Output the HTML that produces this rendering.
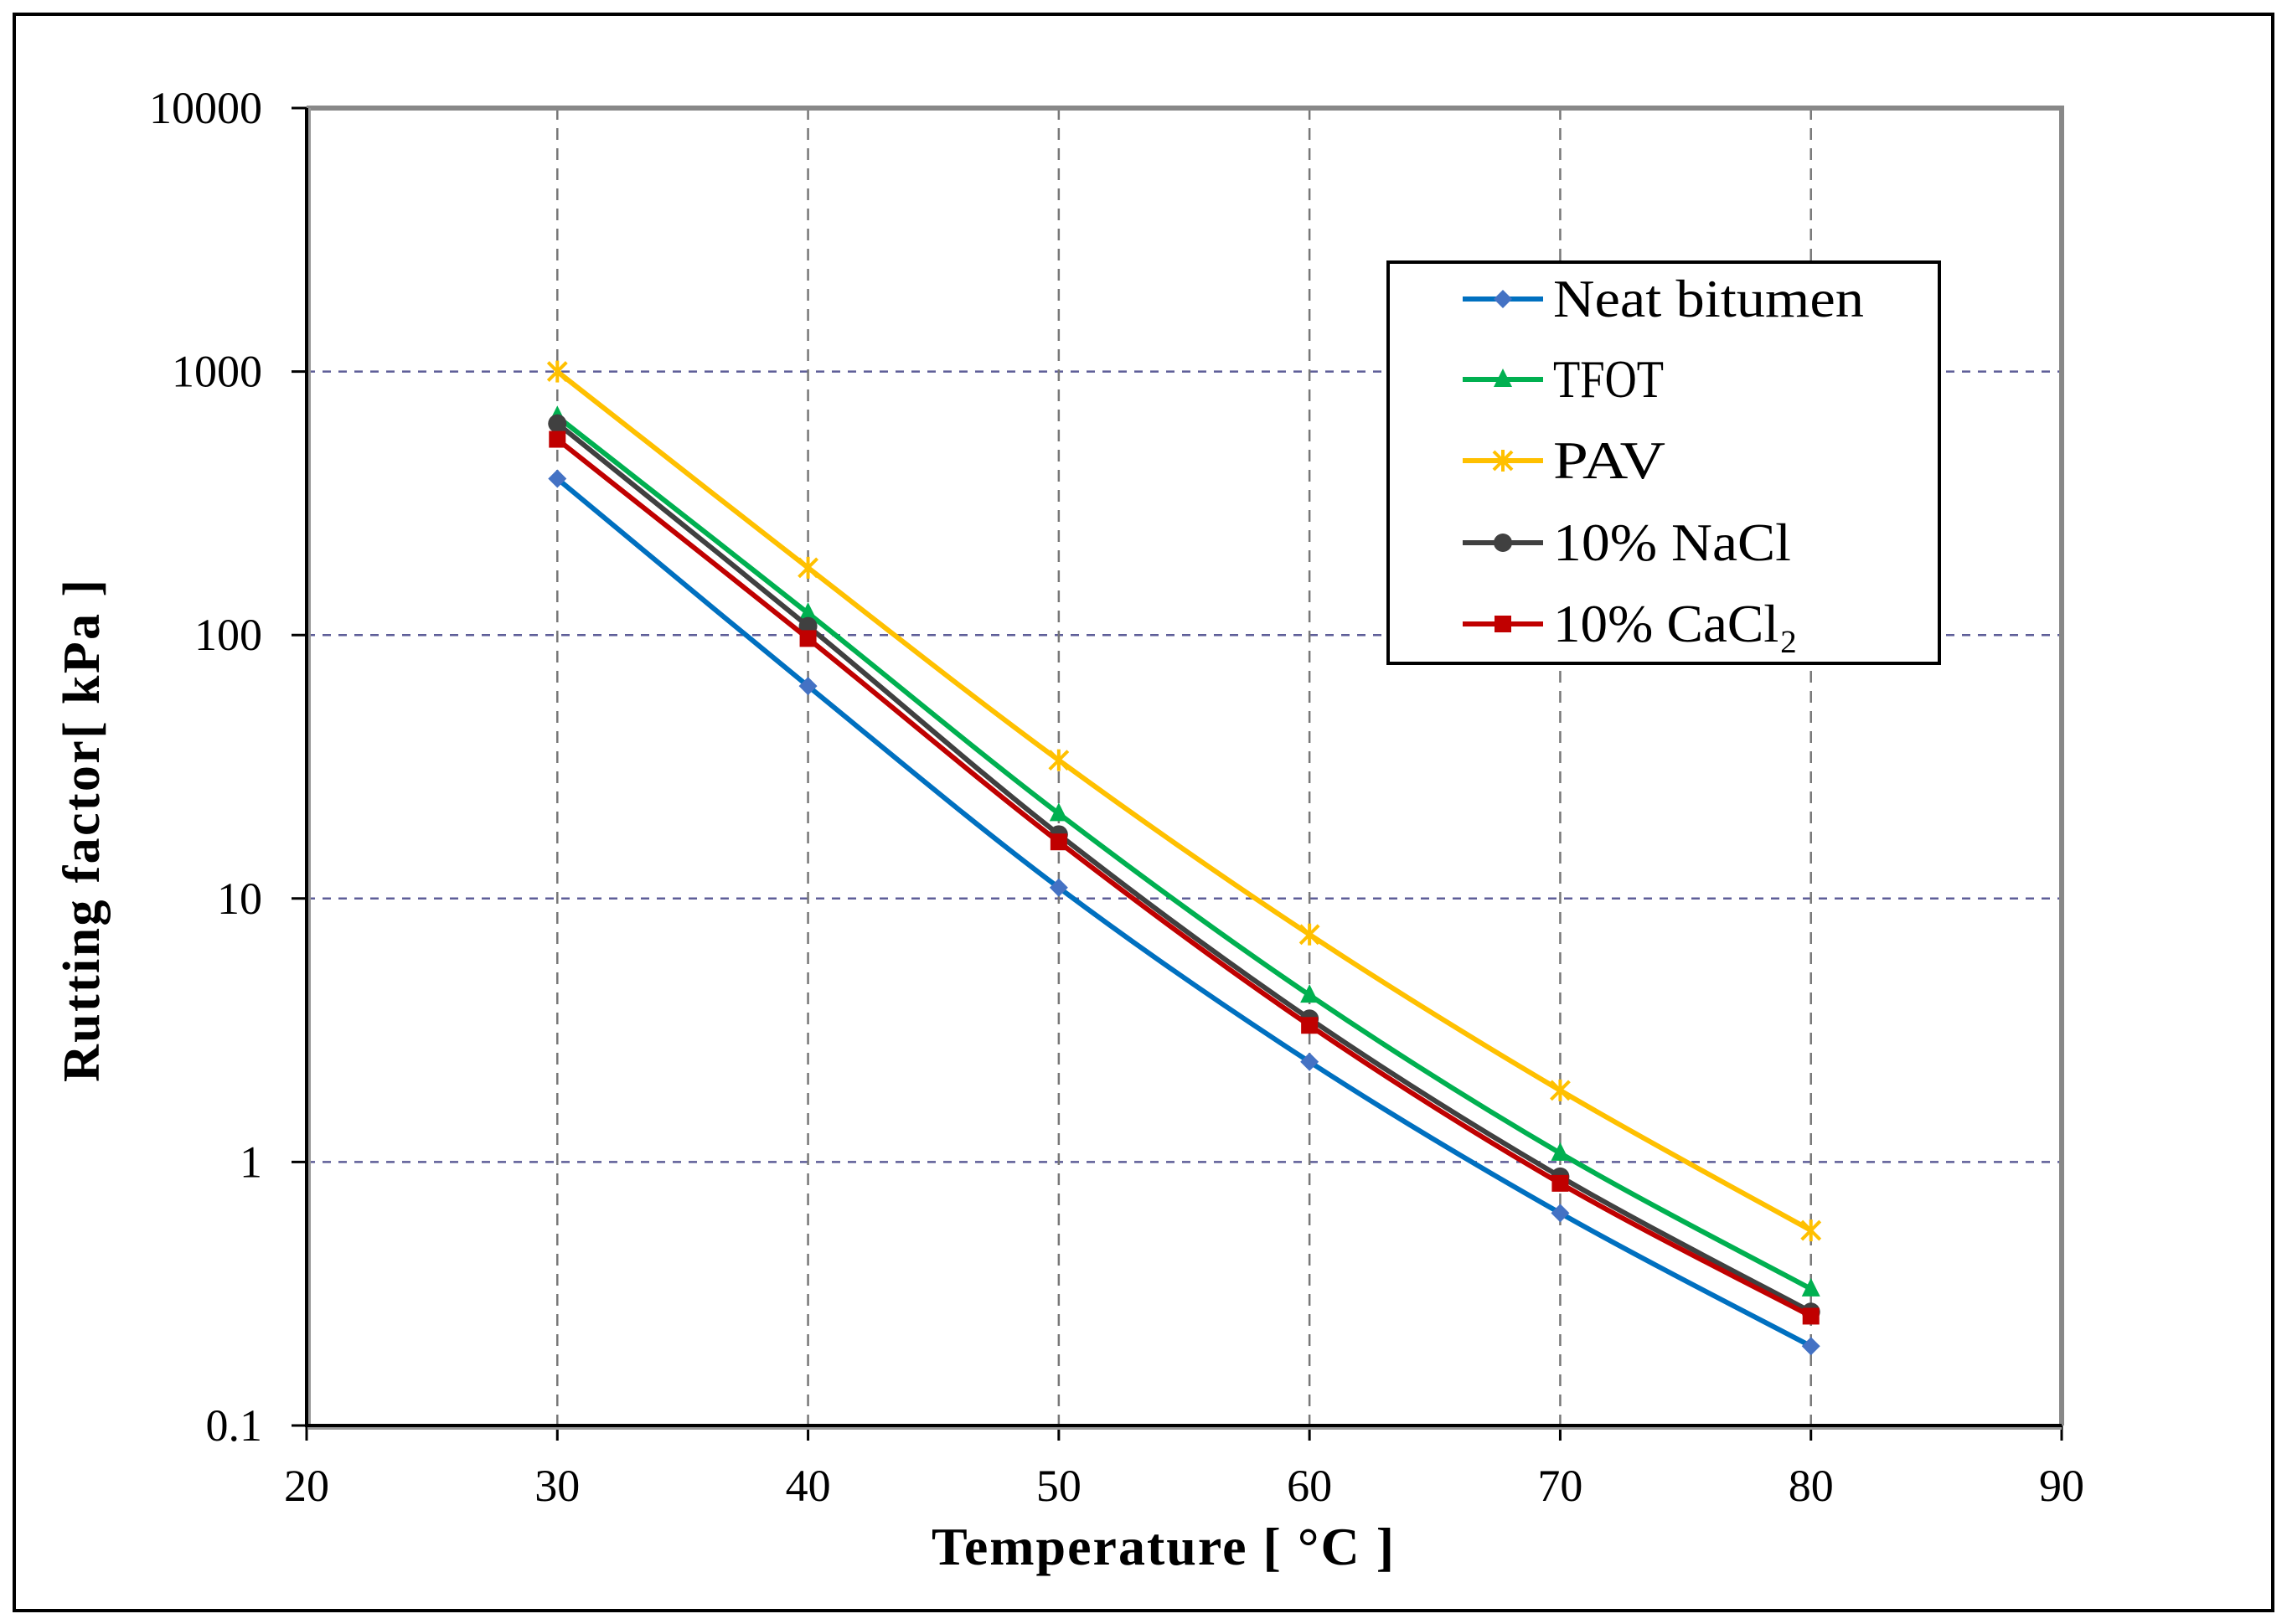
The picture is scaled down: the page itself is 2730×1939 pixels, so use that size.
<!DOCTYPE html>
<html><head><meta charset="utf-8"><style>
html,body{margin:0;padding:0;background:#fff;}
svg{display:block;font-family:"Liberation Serif",serif;}
</style></head><body>
<svg id="chart" width="2730" height="1939" viewBox="0 0 2730 1939" xmlns="http://www.w3.org/2000/svg">
<rect x="17" y="17" width="2696" height="1906" fill="#fff" stroke="#000" stroke-width="4"/>
<g id="grid"></g>
<g id="axes"></g>
<g id="series"></g>
<text x="1388" y="1868" text-anchor="middle" font-size="64" font-weight="bold" textLength="552">Temperature [ °C ]</text>
<text transform="translate(118,992) rotate(-90)" text-anchor="middle" font-size="62" font-weight="bold" textLength="600">Rutting factor[ kPa ]</text>
<g id="legend">
<rect x="1657" y="313" width="658" height="479" fill="#fff" stroke="#000" stroke-width="4"/>
</g>
</svg>
<script>
const categories = [30, 40, 50, 60, 70, 80];
const neatValues = [392, 64, 11, 2.4, 0.64, 0.20];
const tfotValues = [675, 121, 21, 4.3, 1.08, 0.33];
const pavValues = [1000, 180, 33.5, 7.3, 1.87, 0.55];
const naclValues = [635, 108, 17.5, 3.5, 0.88, 0.27];
const cacl2Values = [553, 97, 16.4, 3.3, 0.83, 0.26];
const seriesNames = ["Neat bitumen", "TFOT", "PAV", "10% NaCl", "10% CaCl₂"];
const xTicks = [20, 30, 40, 50, 60, 70, 80, 90];
const yTicks = [0.1, 1, 10, 100, 1000, 10000];
const yTickLabels = ["0.1", "1", "10", "100", "1000", "10000"];

const NS = "http://www.w3.org/2000/svg";
const X0 = 366, X1 = 2461, Y0 = 1702, Y1 = 129;
function xs(v){ return X0 + (v - 20) / 70 * (X1 - X0); }
function ys(v){ return Y0 - (Math.log10(v) + 1) / 5 * (Y0 - Y1); }
function mk(tag, attrs, parent){ const e = document.createElementNS(NS, tag); for (const k in attrs) e.setAttribute(k, attrs[k]); parent.appendChild(e); return e; }

const grid = document.getElementById('grid');
const axes = document.getElementById('axes');
yTicks.forEach((t, i) => {
  const y = ys(t);
  if (i > 0 && i < yTicks.length - 1) {
    const g = mk('line', {x1: X0, x2: X1, y1: y, y2: y, stroke: '#5e5e98', 'stroke-width': 2.5, 'stroke-dasharray': '10 9'}, grid);
    
    
  }
  const tk = mk('line', {x1: X0 - 18, x2: X0, y1: y, y2: y, stroke: '#000', 'stroke-width': 3}, axes);
  
  
  const lb = mk('text', {x: 313, y: y + 18, 'text-anchor': 'end', 'font-size': 54}, axes);
  lb.textContent = yTickLabels[i];
  
  
});
xTicks.forEach((t, i) => {
  const x = xs(t);
  if (i > 0 && i < xTicks.length - 1) {
    const g = mk('line', {x1: x, x2: x, y1: Y1, y2: Y0, stroke: '#777', 'stroke-width': 2.5, 'stroke-dasharray': '14 10'}, grid);
    
    
  }
  const tk = mk('line', {x1: x, x2: x, y1: Y0, y2: Y0 + 18, stroke: '#000', 'stroke-width': 3}, axes);
  
  
  const lb = mk('text', {x: x, y: 1792, 'text-anchor': 'middle', 'font-size': 54}, axes);
  lb.textContent = String(t);
  
  
});
const fr1 = mk('path', {d: `M${X0} ${Y1} H${X1} V${Y0}`, fill: 'none', stroke: '#888', 'stroke-width': 6}, axes);


const fr2 = mk('path', {d: `M${X0+3} ${Y1} V${Y0+3} H${X1}`, fill: 'none', stroke: '#999', 'stroke-width': 4}, axes);


const fr3 = mk('path', {d: `M${X0} ${Y1} V${Y0} H${X1}`, fill: 'none', stroke: '#000', 'stroke-width': 4}, axes);



function smoothPath(pts){
  let d = `M${pts[0][0]} ${pts[0][1]}`;
  for (let i = 0; i < pts.length - 1; i++) {
    const p0 = pts[i-1] || pts[i], p1 = pts[i], p2 = pts[i+1], p3 = pts[i+2] || p2;
    const c1 = [p1[0] + (p2[0]-p0[0])/6, p1[1] + (p2[1]-p0[1])/6];
    const c2 = [p2[0] - (p3[0]-p1[0])/6, p2[1] - (p3[1]-p1[1])/6];
    d += ` C${c1[0]} ${c1[1]} ${c2[0]} ${c2[1]} ${p2[0]} ${p2[1]}`;
  }
  return d;
}
function marker(type, x, y, color, parent){
  const s = 11;
  let e;
  if (type === 'diamond') e = mk('polygon', {points: `${x},${y-s} ${x+s},${y} ${x},${y+s} ${x-s},${y}`, fill: color}, parent);
  else if (type === 'triangle') e = mk('polygon', {points: `${x},${y-s-2} ${x+s},${y+s-2} ${x-s},${y+s-2}`, fill: color}, parent);
  else if (type === 'circle') e = mk('circle', {cx: x, cy: y, r: s, fill: color}, parent);
  else if (type === 'square') e = mk('rect', {x: x-s+1, y: y-s+1, width: 2*s-2, height: 2*s-2, fill: color}, parent);
  else {
    e = mk('path', {d: `M${x-s} ${y-s}L${x+s} ${y+s}M${x-s} ${y+s}L${x+s} ${y-s}M${x} ${y-s-2}V${y+s+2}`, stroke: color, 'stroke-width': 4, fill: 'none'}, parent);
  }
  return e;
}
const seriesDefs = [
  {vals: neatValues, line: '#0070c0', mcol: '#4472c4', m: 'diamond', key: 'neat-bitumen'},
  {vals: tfotValues, line: '#00b050', mcol: '#00b050', m: 'triangle', key: 'tfot'},
  {vals: pavValues, line: '#ffc000', mcol: '#ffc000', m: 'star', key: 'pav'},
  {vals: naclValues, line: '#404040', mcol: '#404040', m: 'circle', key: 'nacl'},
  {vals: cacl2Values, line: '#c00000', mcol: '#c00000', m: 'square', key: 'cacl2'}
];
const sg = document.getElementById('series');
seriesDefs.forEach(s => {
  const pts = categories.map((c, i) => [xs(c), ys(s.vals[i])]);
  const p = mk('path', {d: smoothPath(pts), fill: 'none', stroke: s.line, 'stroke-width': 6, 'stroke-linejoin': 'round'}, sg);
  
  
  pts.forEach(pt => {
    const m = marker(s.m, pt[0], pt[1], s.mcol, sg);
    
    
  });
});
const lg = document.getElementById('legend');
const rowsY = [357, 453, 550, 648, 745];
const labelWidths = [371, 132, 134, 284, 292];
seriesDefs.forEach((s, i) => {
  const y = rowsY[i];
  const l = mk('line', {x1: 1746, x2: 1842, y1: y, y2: y, stroke: s.line, 'stroke-width': 6}, lg);
  
  
  const m = marker(s.m, 1794, y, s.mcol, lg);
  
  
  const t = mk('text', {x: 1854, y: y + 21, 'font-size': 64, textLength: labelWidths[i], lengthAdjust: 'spacingAndGlyphs'}, lg);
  t.textContent = seriesNames[i];
  
  
});
</script>
</body></html>
